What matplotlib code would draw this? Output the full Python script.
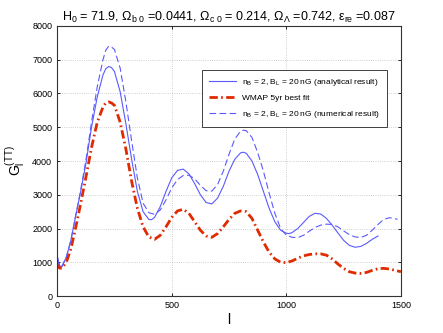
import numpy as np
import matplotlib.pyplot as plt

plt.rcParams['font.family'] = ['Liberation Sans', 'DejaVu Sans']
plt.rcParams['mathtext.fontset'] = 'custom'
plt.rcParams['mathtext.rm'] = 'Liberation Sans'
plt.rcParams['mathtext.it'] = 'Liberation Sans'
plt.rcParams['mathtext.bf'] = 'Liberation Sans:bold'

# analytical result (solid blue)
l_ana = [2, 10, 20, 40, 60, 80, 100, 125, 150, 175, 200, 212, 225, 237, 250, 275, 300, 325, 350,
         375, 400, 412, 425, 450, 475, 500, 525, 550, 575, 600, 625, 650, 675, 700, 725, 750,
         775, 800, 812, 825, 850, 875, 900, 925, 950, 975, 1000, 1012, 1025, 1050, 1075, 1100,
         1125, 1150, 1175, 1200, 1225, 1250, 1275, 1300, 1325, 1350, 1375, 1400]
g_ana = [1150, 900, 870, 1150, 1650, 2350, 3000, 3900, 5000, 5900, 6550, 6730, 6800, 6770, 6650,
         6050, 5100, 4050, 3100, 2500, 2270, 2260, 2330, 2650, 3100, 3500, 3720, 3760, 3620,
         3330, 3000, 2770, 2730, 2900, 3250, 3700, 4050, 4240, 4260, 4230, 4000, 3600, 3100,
         2600, 2200, 1950, 1860, 1850, 1880, 2000, 2180, 2360, 2450, 2430, 2300, 2100, 1870,
         1650, 1500, 1445, 1470, 1560, 1680, 1780]

# WMAP 5yr best fit (red dash-dot)
l_wmap = [2, 10, 20, 40, 60, 80, 100, 125, 150, 175, 200, 212, 225, 237, 250, 275, 300, 325, 350,
          375, 400, 425, 450, 475, 500, 525, 550, 575, 600, 625, 650, 675, 700, 725, 750, 775,
          800, 825, 850, 875, 900, 925, 950, 975, 1000, 1025, 1050, 1075, 1100, 1125, 1150,
          1175, 1200, 1225, 1250, 1275, 1300, 1325, 1350, 1375, 1400, 1425, 1450, 1475, 1500]
g_wmap = [1000, 830, 820, 1000, 1400, 2000, 2650, 3500, 4400, 5150, 5600, 5720, 5750, 5720, 5650,
          5150, 4350, 3400, 2600, 2050, 1750, 1680, 1800, 2050, 2330, 2520, 2570, 2450, 2200,
          1950, 1780, 1740, 1850, 2050, 2270, 2450, 2520, 2500, 2300, 1950, 1600, 1300, 1100,
          1000, 990, 1040, 1120, 1190, 1230, 1250, 1250, 1210, 1100, 950, 820, 720, 680, 670,
          700, 760, 810, 820, 800, 760, 720]

# numerical result (dashed blue)
l_num = [2, 10, 20, 40, 60, 80, 100, 125, 150, 175, 200, 212, 225, 237, 250, 275, 300, 325, 350,
         375, 400, 425, 450, 475, 500, 525, 550, 575, 600, 625, 650, 675, 700, 725, 750, 775,
         800, 812, 825, 850, 875, 900, 925, 950, 975, 1000, 1025, 1050, 1075, 1100, 1125, 1150,
         1175, 1200, 1225, 1250, 1275, 1300, 1325, 1350, 1375, 1400, 1425, 1450, 1475, 1485]
g_num = [1100, 880, 860, 1150, 1650, 2350, 3050, 4000, 5150, 6200, 7000, 7280, 7400, 7380, 7300,
         6750, 5750, 4600, 3500, 2750, 2470, 2420, 2550, 2850, 3200, 3450, 3570, 3580, 3470,
         3280, 3120, 3110, 3300, 3700, 4200, 4650, 4880, 4910, 4900, 4700, 4250, 3700, 3050,
         2450, 2000, 1800, 1740, 1730, 1800, 1920, 2030, 2100, 2130, 2120, 2050, 1930, 1820,
         1750, 1735, 1800, 1950, 2120, 2270, 2320, 2290, 2270]

fig = plt.figure(figsize=(4.43, 3.33), dpi=100)
ax = fig.add_axes([0.129, 0.111, 0.776, 0.811])

ax.plot(l_ana, g_ana, color='#5a5aff', lw=0.8,
        label=r'n$_B$ = 2, B$_L$ = 20 nG (analytical result)')
ax.plot(l_wmap, g_wmap, color='#e02a00', lw=2.0, ls=(0, (3, 1.2, 0.6, 1.2)),
        label='WMAP 5yr best fit')
ax.plot(l_num, g_num, color='#5a5aff', lw=0.8, ls=(0, (6, 3)),
        label=r'n$_B$ = 2, B$_L$ = 20 nG (numerical result)')

ax.set_xlim(0, 1500)
ax.set_ylim(0, 8000)
ax.set_xticks([0, 500, 1000, 1500])
ax.set_yticks(range(0, 8001, 1000))
ax.grid(True, linestyle=':', color='#c0c0c0', lw=0.6)
ax.tick_params(direction='in', top=True, right=True, labelsize=6.5, length=2.5, width=0.6)
for s in ax.spines.values():
    s.set_linewidth(0.8)
    s.set_color('#333333')

ax.set_xlabel('l', fontsize=10, labelpad=2)
ax.set_ylabel(r'G$_l^{(TT)}$', fontsize=10, labelpad=4)
ax.set_title(r'H$_0$ = 71.9, $\Omega_{b\ 0}$ =0.0441, $\Omega_{c\ 0}$ = 0.214, '
             r'$\Omega_{\Lambda}$ =0.742, $\epsilon_{re}$ =0.087', fontsize=9, pad=4)

leg = ax.legend(loc='upper left', bbox_to_anchor=(0.41, 0.852), fontsize=6,
                fancybox=False, edgecolor='#222222', framealpha=1, handlelength=3.2,
                borderpad=0.8, labelspacing=0.8)
leg.get_frame().set_linewidth(0.6)

plt.savefig('out.png', dpi=100)
